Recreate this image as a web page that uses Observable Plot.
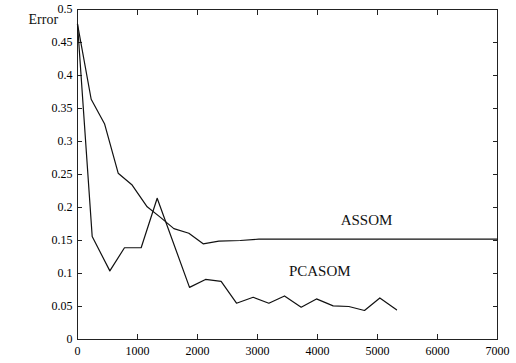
<!DOCTYPE html>
<html>
<head>
<meta charset="utf-8">
<script src="https://cdn.jsdelivr.net/npm/d3@7"></script>
<script src="https://cdn.jsdelivr.net/npm/@observablehq/plot@0.6"></script>
<style>
  html, body { margin: 0; padding: 0; background: #fff; }
  #chart svg, #chart svg text { font-family: "Liberation Serif", "DejaVu Serif", serif !important; }
</style>
</head>
<body>
<div id="chart"></div>
<script>
// ASSOM error curve
const assomIter = [0, 228, 450, 678, 911, 1161, 1383, 1606, 1856, 2094, 2356, 2711, 3022, 7000];
const assomErr  = [0.478, 0.364, 0.327, 0.252, 0.234, 0.201, 0.185, 0.168, 0.161, 0.145, 0.149, 0.150, 0.152, 0.152];

// PCASOM error curve
const pcaIter = [0, 245, 539, 783, 1061, 1328, 1867, 2133, 2394, 2650, 2928, 3189, 3450, 3728, 3983, 4261, 4522, 4783, 5039, 5317];
const pcaErr  = [0.478, 0.156, 0.104, 0.139, 0.139, 0.214, 0.079, 0.091, 0.088, 0.055, 0.064, 0.055, 0.066, 0.049, 0.0615, 0.051, 0.050, 0.044, 0.063, 0.045];

// tick values
const xTicks = [0, 1000, 2000, 3000, 4000, 5000, 6000, 7000];
const yTicks = [0, 0.05, 0.1, 0.15, 0.2, 0.25, 0.3, 0.35, 0.4, 0.45, 0.5];

// series labels
const seriesNames = ["ASSOM", "PCASOM"];
const seriesLabelX = [4817, 4038];
const seriesLabelY = [0.181, 0.104];

const assom = assomIter.map((x, i) => ({x, y: assomErr[i]}));
const pca = pcaIter.map((x, i) => ({x, y: pcaErr[i]}));
const labels = seriesNames.map((name, i) => ({name, x: seriesLabelX[i], y: seriesLabelY[i]}));

const serif = "Liberation Serif, DejaVu Serif, serif";

const chart = Plot.plot({
  width: 516,
  height: 363,
  marginLeft: 77,
  marginRight: 19,
  marginTop: 9,
  marginBottom: 24,
  style: "font-size: 12px; color: #000; background: #fff;",
  x: {domain: [0, 7000]},
  y: {domain: [0, 0.5]},
  marks: [
    Plot.frame({stroke: "#222", strokeWidth: 1}),
    Plot.axisX(xTicks, {anchor: "bottom", tickSize: -5, tickPadding: 12, tickFormat: d3.format("d"), label: null, stroke: "#222", fontFamily: serif, fontSize: 12}),
    Plot.axisX(xTicks, {anchor: "top", tickSize: -5, tickFormat: () => "", label: null, stroke: "#222"}),
    Plot.axisY(yTicks, {anchor: "left", tickSize: -5, tickPadding: 10, tickFormat: d3.format(""), label: null, stroke: "#222", fontFamily: serif, fontSize: 12}),
    Plot.axisY(yTicks, {anchor: "right", tickSize: -5, tickFormat: () => "", label: null, stroke: "#222"}),
    Plot.line(assom, {x: "x", y: "y", stroke: "#111", strokeWidth: 1.2}),
    Plot.line(pca, {x: "x", y: "y", stroke: "#111", strokeWidth: 1.2}),
    Plot.text(labels, {x: "x", y: "y", text: "name", fontSize: 15, fill: "#111", fontFamily: serif}),
    Plot.text(["Error"], {frameAnchor: "top-left", dx: -49, dy: 5, fontSize: 14, fill: "#111", fontFamily: serif})
  ]
});
document.getElementById("chart").appendChild(chart);
</script>
</body>
</html>
